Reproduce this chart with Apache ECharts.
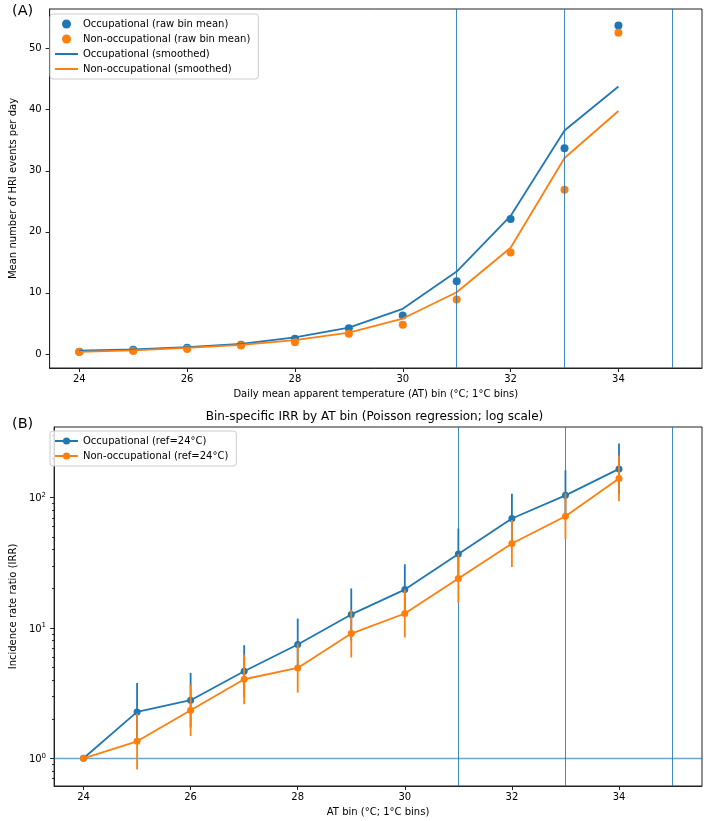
<!DOCTYPE html>
<html>
<head>
<meta charset="utf-8">
<script src="https://cdn.jsdelivr.net/npm/echarts@6/dist/echarts.min.js"></script>
<style>
  html, body { margin: 0; padding: 0; background: #fff; }
  #chart { width: 708px; height: 821px; }
</style>
</head>
<body>
<div id="chart"></div>
<script>
// AT bins (°C)
const bins = [24, 25, 26, 27, 28, 29, 30, 31, 32, 33, 34]

// panel A: mean HRI events per day
const occRaw = [0.38, 0.7, 1.0, 1.5, 2.5, 4.2, 6.3, 11.9, 22.1, 33.7, 53.8]
const nonRaw = [0.33, 0.5, 0.8, 1.4, 1.9, 3.3, 4.8, 8.9, 16.6, 26.9, 52.6]
const occSmooth = [0.55, 0.75, 1.1, 1.65, 2.7, 4.3, 7.4, 13.5, 22.6, 36.6, 43.8]
const nonSmooth = [0.35, 0.6, 1.0, 1.5, 2.25, 3.5, 5.8, 10.1, 17.4, 32.1, 39.8]

// panel B: IRR with 95% CI
const occIrr = [1, 2.27, 2.79, 4.65, 7.46, 12.7, 19.7, 37.0, 69.1, 104, 166]
const occLo = [1, 1.36, 1.72, 2.94, 4.72, 8.0, 12.6, 23.6, 44.6, 67, 106]
const occHi = [1, 3.78, 4.52, 7.37, 11.8, 20.1, 30.8, 57.9, 107, 162, 260]
const nonIrr = [1, 1.35, 2.34, 4.04, 4.93, 9.06, 12.9, 23.9, 44.4, 71.9, 140]
const nonLo = [1, 0.82, 1.48, 2.6, 3.19, 5.93, 8.44, 15.6, 29.4, 48, 93.8]
const nonHi = [1, 2.21, 3.67, 6.25, 7.6, 13.7, 19.7, 36.8, 67.3, 108, 210]

// ticks
const xTicks = [24, 26, 28, 30, 32, 34]
const yTicksA = [0, 10, 20, 30, 40, 50]
const yTicksB = [1, 10, 100]
const yMinorB = [0.7, 0.8, 0.9, 2, 3, 4, 5, 6, 7, 8, 9, 20, 30, 40, 50, 60, 70, 80, 90, 200, 300]
const thresholdBins = [31, 33, 35]

const BLUE = '#1f77b4'
const ORANGE = '#ff7f0e'
const FONT = 'DejaVu Sans'
const INK = '#222'

const chart = echarts.init(document.getElementById('chart'), null, { renderer: 'canvas' })

const pairs = (ys) => bins.map((x, i) => [x, ys[i]])

const xAxisBase = (gridIndex, name) => ({
  type: 'value',
  gridIndex,
  min: 23.45,
  max: 35.55,
  splitLine: { show: false },
  axisLine: { onZero: false, lineStyle: { color: INK, width: 1 } },
  axisTick: { customValues: xTicks, length: 4, lineStyle: { color: INK } },
  axisLabel: { customValues: xTicks, margin: 6, fontSize: 10, color: '#000', fontFamily: FONT },
  name,
  nameLocation: 'middle',
  nameGap: 21,
  nameTextStyle: { fontSize: 10, color: '#000', fontFamily: FONT },
})

const errorBars = (lo, hi, color) => ({
  type: 'custom',
  xAxisIndex: 1,
  yAxisIndex: 1,
  silent: true,
  data: bins.map((x, i) => [x, lo[i], hi[i]]),
  encode: { x: 0, y: [1, 2] },
  renderItem: (params, api) => {
    const top = api.coord([api.value(0), api.value(2)])
    const bot = api.coord([api.value(0), api.value(1)])
    return {
      type: 'line',
      shape: { x1: top[0], y1: top[1], x2: bot[0], y2: bot[1] },
      style: { stroke: color, lineWidth: 1.8 },
    }
  },
})

const vLines = {
  symbol: ['none', 'none'],
  silent: true,
  label: { show: false },
  lineStyle: { color: BLUE, width: 1, type: 'solid', opacity: 0.85 },
  data: thresholdBins.map((v) => ({ xAxis: v })),
}

const legendBase = {
  orient: 'vertical',
  left: 50,
  padding: [4, 8, 4, 4],
  itemWidth: 23,
  itemHeight: 9,
  itemGap: 3,
  backgroundColor: 'rgba(255,255,255,0.8)',
  borderColor: '#ccc',
  borderWidth: 1,
  borderRadius: 3,
  textStyle: { fontSize: 10, color: '#000', fontFamily: FONT, lineHeight: 12 },
}

const option = {
  animation: false,
  backgroundColor: '#fff',
  textStyle: { fontFamily: FONT },
  graphic: [
    { type: 'text', left: 12, top: 4, style: { text: '(A)', fontSize: 14.5, fill: '#000', fontFamily: FONT } },
    { type: 'text', left: 12, top: 417, style: { text: '(B)', fontSize: 14.5, fill: '#000', fontFamily: FONT } },
    {
      type: 'text',
      x: 374.5,
      y: 417,
      style: {
        text: 'Bin-specific IRR by AT bin (Poisson regression; log scale)',
        fontSize: 12,
        fill: '#000',
        fontFamily: FONT,
        textAlign: 'center',
        textVerticalAlign: 'middle',
      },
    },
  ],
  legend: [
    Object.assign({}, legendBase, {
      top: 14,
      data: [
        'Occupational (raw bin mean)',
        'Non-occupational (raw bin mean)',
        { name: 'Occupational (smoothed)', itemStyle: { opacity: 0 } },
        { name: 'Non-occupational (smoothed)', itemStyle: { opacity: 0 } },
      ],
    }),
    Object.assign({}, legendBase, {
      top: 431,
      data: ['Occupational (ref=24°C)', 'Non-occupational (ref=24°C)'],
    }),
  ],
  grid: [
    { left: 47, right: 6, top: 9, height: 359, show: true, borderColor: INK, borderWidth: 1, backgroundColor: 'transparent' },
    { left: 47, right: 6, top: 427, height: 359, show: true, borderColor: INK, borderWidth: 1, backgroundColor: 'transparent' },
  ],
  xAxis: [
    xAxisBase(0, 'Daily mean apparent temperature (AT) bin (°C; 1°C bins)'),
    xAxisBase(1, 'AT bin (°C; 1°C bins)'),
  ],
  yAxis: [
    {
      type: 'value',
      gridIndex: 0,
      min: -2.3,
      max: 56.5,
      splitLine: { show: false },
      axisLine: { lineStyle: { color: INK, width: 1 } },
      axisTick: { customValues: yTicksA, length: 4, lineStyle: { color: INK } },
      axisLabel: { customValues: yTicksA, margin: 8, fontSize: 10, color: '#000', fontFamily: FONT },
      name: 'Mean number of HRI events per day',
      nameLocation: 'middle',
      nameGap: 28,
      nameTextStyle: { fontSize: 10, color: '#000', fontFamily: FONT },
    },
    {
      type: 'log',
      logBase: 10,
      gridIndex: 1,
      min: 0.613,
      max: 348,
      splitLine: { show: false },
      axisLine: { lineStyle: { color: INK, width: 1 } },
      axisTick: { customValues: yTicksB, length: 4, lineStyle: { color: INK } },
      axisLabel: {
        customValues: yTicksB,
        margin: 8,
        color: '#000',
        fontFamily: FONT,
        formatter: (v) => '{b|10}{s|' + Math.round(Math.log10(v)) + '}',
        rich: {
          b: { fontSize: 10, fontFamily: FONT, color: '#000', verticalAlign: 'bottom' },
          s: { fontSize: 7, fontFamily: FONT, color: '#000', verticalAlign: 'bottom', padding: [0, 0, 5, 0] },
        },
      },
      name: 'Incidence rate ratio (IRR)',
      nameLocation: 'middle',
      nameGap: 28,
      nameTextStyle: { fontSize: 10, color: '#000', fontFamily: FONT },
    },
    {
      // minor ticks of the log axis
      type: 'log',
      logBase: 10,
      gridIndex: 1,
      min: 0.613,
      max: 348,
      position: 'left',
      splitLine: { show: false },
      axisLine: { show: false },
      axisTick: { customValues: yMinorB, length: 2, lineStyle: { color: INK } },
      axisLabel: { show: false },
    },
  ],
  series: [
    {
      name: 'Occupational (raw bin mean)',
      type: 'scatter',
      xAxisIndex: 0,
      yAxisIndex: 0,
      symbolSize: 8,
      itemStyle: { color: BLUE, opacity: 1 },
      data: pairs(occRaw),
      z: 2,
    },
    {
      name: 'Non-occupational (raw bin mean)',
      type: 'scatter',
      xAxisIndex: 0,
      yAxisIndex: 0,
      symbolSize: 8,
      itemStyle: { color: ORANGE, opacity: 1 },
      data: pairs(nonRaw),
      z: 2,
    },
    {
      name: 'Occupational (smoothed)',
      type: 'line',
      xAxisIndex: 0,
      yAxisIndex: 0,
      symbol: 'none',
      lineStyle: { color: BLUE, width: 1.8 },
      itemStyle: { color: BLUE },
      data: pairs(occSmooth),
      z: 3,
    },
    {
      name: 'Non-occupational (smoothed)',
      type: 'line',
      xAxisIndex: 0,
      yAxisIndex: 0,
      symbol: 'none',
      lineStyle: { color: ORANGE, width: 1.8 },
      itemStyle: { color: ORANGE },
      data: pairs(nonSmooth),
      markLine: vLines,
      z: 3,
    },
    Object.assign(errorBars(occLo, occHi, BLUE), { z: 3 }),
    {
      name: 'Occupational (ref=24°C)',
      type: 'line',
      xAxisIndex: 1,
      yAxisIndex: 1,
      symbol: 'circle',
      symbolSize: 7,
      showAllSymbol: true,
      lineStyle: { color: BLUE, width: 1.8 },
      itemStyle: { color: BLUE },
      data: pairs(occIrr),
      z: 4,
    },
    Object.assign(errorBars(nonLo, nonHi, ORANGE), { z: 5 }),
    {
      name: 'Non-occupational (ref=24°C)',
      type: 'line',
      xAxisIndex: 1,
      yAxisIndex: 1,
      symbol: 'circle',
      symbolSize: 7,
      showAllSymbol: true,
      lineStyle: { color: ORANGE, width: 1.8 },
      itemStyle: { color: ORANGE },
      data: pairs(nonIrr),
      z: 6,
      markLine: {
        symbol: ['none', 'none'],
        silent: true,
        label: { show: false },
        lineStyle: { color: BLUE, width: 1, type: 'solid', opacity: 0.85 },
        data: [
          ...thresholdBins.map((v) => ({ xAxis: v })),
          { yAxis: 1, lineStyle: { color: BLUE, width: 1.3, type: 'solid', opacity: 0.65 } },
        ],
      },
    },
  ],
}

chart.setOption(option)
</script>
</body>
</html>
